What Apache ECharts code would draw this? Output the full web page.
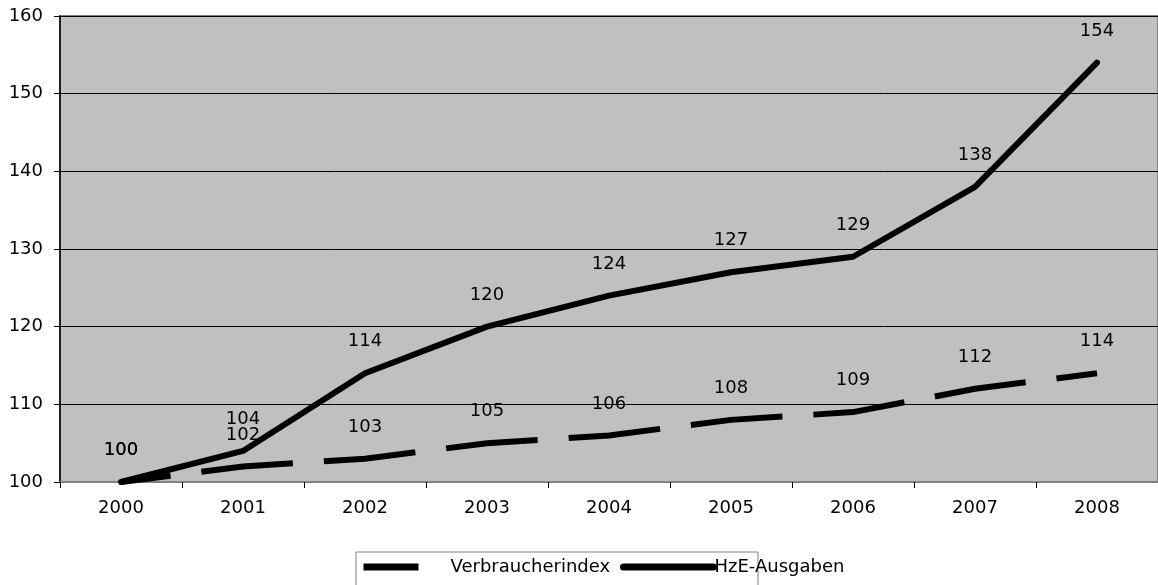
<!DOCTYPE html>
<html>
<head>
<meta charset="utf-8">
<script src="https://cdn.jsdelivr.net/npm/echarts@6/dist/echarts.min.js"></script>
<style>
html,body{margin:0;padding:0;background:#fff;}
#c{width:1158px;height:585px;}
</style>
</head>
<body>
<div id="c"></div>
<script>
const years = ['2000','2001','2002','2003','2004','2005','2006','2007','2008'];
const verbraucherindex = [100,102,103,105,106,108,109,112,114];
const hzeAusgaben = [100,104,114,120,124,127,129,138,154];
const yTicks = {min:100, max:160, interval:10};

const FONT = '"DejaVu Sans", Arial, sans-serif';
const FS = 18;
const chart = echarts.init(document.getElementById('c'));
const labelCfg = {show:true, position:'top', distance:22, color:'#000', fontSize:FS, fontFamily:FONT};
chart.setOption({
  animation:false,
  backgroundColor:'#fff',
  grid:{left:60, right:-6, top:16, bottom:103, show:true, backgroundColor:'#c0c0c0', borderColor:'#808080', borderWidth:2},
  graphic:[{type:'rect', z:1, shape:{x:356, y:552, width:402, height:40}, style:{fill:'#fff', stroke:'#808080', lineWidth:1}}],
  legend:[
    {data:['Verbraucherindex'], left:360, top:552, padding:[6,0,6,0], itemWidth:82, itemHeight:18, itemGap:0, z:5,
     textStyle:{fontSize:FS, fontFamily:FONT, color:'#000'},
     lineStyle:{type:[55,40], dashOffset:0, width:7, cap:'butt'}},
    {data:['HzE-Ausgaben'], left:620, top:552, padding:[6,0,6,0], itemWidth:90, itemHeight:18, itemGap:0, z:5,
     textStyle:{fontSize:FS, fontFamily:FONT, color:'#000', padding:[0,0,0,-4]},
     lineStyle:{width:7, cap:'round'}}
  ],
  xAxis:{type:'category', data:years, boundaryGap:true,
    axisLine:{lineStyle:{color:'#808080', width:2}},
    axisTick:{show:true, length:6, lineStyle:{color:'#000'}},
    axisLabel:{color:'#000', fontSize:FS, fontFamily:FONT, margin:17},
    splitLine:{show:false}},
  yAxis:{type:'value', min:yTicks.min, max:yTicks.max, interval:yTicks.interval,
    axisLine:{show:true, lineStyle:{color:'#000', width:1.5}},
    axisTick:{show:true, length:6, lineStyle:{color:'#000'}},
    axisLabel:{color:'#000', fontSize:FS, fontFamily:FONT, margin:17},
    splitLine:{show:true, lineStyle:{color:'#000', width:1}}},
  series:[
    {name:'Verbraucherindex', type:'line', data:verbraucherindex, symbol:'circle', symbolSize:1, showSymbol:true,
     itemStyle:{color:'rgba(0,0,0,0)'},
     lineStyle:{color:'#000', width:6, type:[92,31], dashOffset:42, cap:'butt', join:'miter'},
     label:labelCfg, z:3},
    {name:'HzE-Ausgaben', type:'line', data:hzeAusgaben, symbol:'circle', symbolSize:1, showSymbol:true,
     itemStyle:{color:'rgba(0,0,0,0)'},
     lineStyle:{color:'#000', width:6, cap:'round', join:'round'},
     label:labelCfg, z:4}
  ]
});
</script>
</body>
</html>
